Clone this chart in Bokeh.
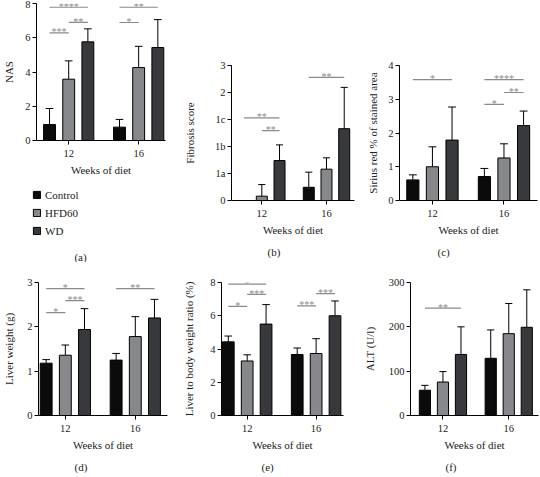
from bokeh.plotting import figure
from bokeh.models import (Range1d, FixedTicker, Legend, LegendItem, Title,
                          ColumnDataSource, Label)
from bokeh.layouts import column, row
from bokeh.embed import file_html
from bokeh.resources import INLINE
from bokeh.core.properties import value

# ---------------- data ----------------
groups = ["12", "16"]
series = ["Control", "HFD60", "WD"]

nas_control = [0.93, 0.78]
nas_control_sd = [0.94, 0.45]
nas_hfd60 = [3.58, 4.26]
nas_hfd60_sd = [1.07, 1.24]
nas_wd = [5.76, 5.43]
nas_wd_sd = [0.76, 1.63]
nas_sig = [(0, 0, 1, 6.28, "***"), (0, 1, 2, 6.9, "**"), (0, 0, 2, 7.78, "****"),
           (1, 0, 1, 6.89, "*"), (1, 0, 2, 7.78, "**")]

fib_ticklabels = ["0", "1a", "1b", "1c", "2", "3"]
fib_control = [0.0, 0.49]
fib_control_sd = [0.0, 0.56]
fib_hfd60 = [0.16, 1.16]
fib_hfd60_sd = [0.43, 0.42]
fib_wd = [1.48, 2.66]
fib_wd_sd = [0.58, 1.53]
fib_sig = [(0, 0, 2, 3.06, "**"), (0, 1, 2, 2.59, "**"), (1, 0, 2, 4.56, "**")]

sirius_control = [0.61, 0.71]
sirius_control_sd = [0.15, 0.24]
sirius_hfd60 = [1.0, 1.26]
sirius_hfd60_sd = [0.59, 0.42]
sirius_wd = [1.79, 2.22]
sirius_wd_sd = [0.98, 0.43]
sirius_sig = [(0, 0, 2, 3.58, "*"), (1, 0, 2, 3.58, "****"), (1, 1, 2, 3.2, "**"),
              (1, 0, 1, 2.85, "*")]

liver_control = [1.18, 1.25]
liver_control_sd = [0.08, 0.15]
liver_hfd60 = [1.36, 1.78]
liver_hfd60_sd = [0.23, 0.45]
liver_wd = [1.94, 2.20]
liver_wd_sd = [0.47, 0.42]
liver_sig = [(0, 0, 2, 2.86, "*"), (0, 1, 2, 2.59, "***"), (0, 0, 1, 2.32, "*"),
             (1, 0, 2, 2.86, "**")]

ratio_control = [4.43, 3.67]
ratio_control_sd = [0.35, 0.39]
ratio_hfd60 = [3.28, 3.73]
ratio_hfd60_sd = [0.37, 0.89]
ratio_wd = [5.5, 6.0]
ratio_wd_sd = [1.17, 0.89]
ratio_sig = [(0, 0, 2, 7.9, "*"), (0, 1, 2, 7.28, "***"), (0, 0, 1, 6.56, "*"),
             (1, 0, 1, 6.6, "***"), (1, 1, 2, 7.33, "***")]

alt_control = [57, 129]
alt_control_sd = [11, 64]
alt_hfd60 = [75.5, 184.6]
alt_hfd60_sd = [23.5, 68]
alt_wd = [137.7, 199]
alt_wd_sd = [62.3, 84.5]
alt_sig = [(0, 0, 2, 242, "**")]

# ---------------- style ----------------
FONT = "Liberation Serif"
COLORS = ["#0b0b0b", "#86888c", "#38393d"]
SIG_COLOR = "#8a8a8a"
TEXT_COLOR = "#222222"
STEP = 1 / 3.65          # bar spacing in group units
BAR_W = 0.62 * STEP


def make_panel(letter, ylabel, means, sds, sig, yticks, yend, xr,
               width, height, mbl, mbr, mbt, mbb, als, tick_over=None,
               title_offset=0):
    p = figure(width=width, height=height, min_border_left=mbl,
               min_border_right=mbr, min_border_top=mbt, min_border_bottom=mbb,
               x_range=Range1d(xr[0] * STEP, xr[1] * STEP), y_range=Range1d(0, yend),
               output_backend="svg", toolbar_location=None, title=None,
               outline_line_color=None)
    p.grid.visible = False
    p.background_fill_color = "white"
    p.border_fill_color = "white"

    for s, (m, sd) in enumerate(zip(means, sds)):
        xs = [g + (s - 1) * STEP for g in range(len(groups))]
        src = ColumnDataSource(dict(x=xs, top=m,
                                    up=[a + b for a, b in zip(m, sd)],
                                    lx=[x - 0.2 * STEP for x in xs],
                                    rx=[x + 0.2 * STEP for x in xs]))
        p.segment(x0="x", y0="top", x1="x", y1="up", source=src,
                  line_color="black", line_width=1)
        p.segment(x0="lx", y0="up", x1="rx", y1="up", source=src,
                  line_color="black", line_width=1)
        p.vbar(x="x", top="top", bottom=0, width=BAR_W, source=src,
               fill_color=COLORS[s], line_color="black", line_width=1)

    sx0 = [g + (a - 1) * STEP for g, a, b, y, t in sig]
    sx1 = [g + (b - 1) * STEP for g, a, b, y, t in sig]
    sy = [y for g, a, b, y, t in sig]
    st = [t for g, a, b, y, t in sig]
    sm = [(a + b) / 2 for a, b in zip(sx0, sx1)]
    ssrc = ColumnDataSource(dict(x0=sx0, x1=sx1, y=sy, t=st, xm=sm))
    p.segment(x0="x0", y0="y", x1="x1", y1="y", source=ssrc,
              line_color=SIG_COLOR, line_width=1.2)
    p.text(x="xm", y="y", text="t", source=ssrc, text_align="center",
           text_baseline="middle", y_offset=-1, text_color=SIG_COLOR,
           text_font=value(FONT), text_font_size="10px")

    # axes
    ax = p.xaxis[0]
    ax.ticker = FixedTicker(ticks=[0, 1])
    ax.major_label_overrides = {0: groups[0], 1: groups[1]}
    ax.axis_label = "Weeks of diet"
    ay = p.yaxis[0]
    ay.ticker = FixedTicker(ticks=yticks)
    if tick_over:
        ay.major_label_overrides = tick_over
    ay.axis_label = ylabel
    for a in (ax, ay):
        a.minor_tick_line_color = None
        a.major_tick_in = 0
        a.major_tick_out = 4
        a.axis_line_color = "black"
        a.major_tick_line_color = "black"
        a.major_label_text_font = FONT
        a.major_label_text_font_size = "10.5px"
        a.major_label_text_color = TEXT_COLOR
        a.axis_label_text_font = FONT
        a.axis_label_text_font_size = "11px"
        a.axis_label_text_font_style = "normal"
        a.axis_label_text_color = TEXT_COLOR
    ay.major_label_standoff = 2
    ax.major_label_standoff = 5
    ay.axis_label_standoff = als
    ax.axis_label_standoff = 4

    if letter:
        t = Title(text="(" + letter + ")", align="left", text_font=FONT,
                  text_font_size="11px", text_font_style="normal",
                  text_color=TEXT_COLOR, offset=title_offset)
        p.add_layout(t, "below")
    return p


H1, H2 = 262, 215
HA, HL = 185, 77
pa = make_panel(None, "NAS", [nas_control, nas_hfd60, nas_wd],
                [nas_control_sd, nas_hfd60_sd, nas_wd_sd], nas_sig,
                [0, 2, 4, 6, 8], 8, (-1.68, 5.05),
                180, HA, 33, 15, 3, 45, 7)

# legend + "(a)" for panel (a), in a small companion figure without axes
pleg = figure(width=180, height=HL, x_range=Range1d(0, 180), y_range=Range1d(0, HL),
              output_backend="svg", toolbar_location=None, title=None,
              outline_line_color=None, x_axis_type=None, y_axis_type=None,
              min_border_left=0, min_border_right=0, min_border_top=0,
              min_border_bottom=0)
pleg.grid.visible = False
leg_renderers = []
for i in range(3):
    r = pleg.vbar(x=[0], top=[0], width=1, fill_color=COLORS[i],
                  line_color="black", line_width=1)
    r.visible = False          # only used as legend swatch
    leg_renderers.append(r)
lg = Legend(items=[LegendItem(label=series[i], renderers=[leg_renderers[i]])
                   for i in range(3)],
            orientation="vertical", location=(32, 25),
            glyph_width=9, glyph_height=9, spacing=5, padding=0,
            margin=0, border_line_color=None, inactive_fill_alpha=0,
            background_fill_alpha=0, label_standoff=4,
            label_text_font="Liberation Serif, serif", label_text_font_size="11px",
            label_text_font_style="normal",
            label_height=13, label_text_color=TEXT_COLOR)
pleg.add_layout(lg, "center")
pleg.add_layout(Label(x=80, y=HL - 71, text="(a)", text_align="center",
                      text_baseline="middle", text_font=FONT,
                      text_font_size="11px", text_color=TEXT_COLOR))

pb = make_panel("b", "Fibrosis score", [fib_control, fib_hfd60, fib_wd],
                [fib_control_sd, fib_hfd60_sd, fib_wd_sd], fib_sig,
                [0, 1, 2, 3, 4, 5], 5, (-1.71, 5.23),
                180, H1, 38, 6, 65, 60, 16,
                tick_over={i: lab for i, lab in enumerate(fib_ticklabels)},
                title_offset=36)
pc = make_panel("c", "Sirius red % of stained area",
                [sirius_control, sirius_hfd60, sirius_wd],
                [sirius_control_sd, sirius_hfd60_sd, sirius_wd_sd], sirius_sig,
                [0, 1, 2, 3, 4], 4, (-1.68, 5.36),
                180, H1, 39, 3, 65, 60, 6, title_offset=38)
pd = make_panel("d", "Liver weight (g)", [liver_control, liver_hfd60, liver_wd],
                [liver_control_sd, liver_hfd60_sd, liver_wd_sd], liver_sig,
                [0, 1, 2, 3], 3, (-1.40, 5.33),
                180, H2, 35, 13, 20, 59, 9, title_offset=36)
pe = make_panel("e", "Liver to body weight ratio (%)",
                [ratio_control, ratio_hfd60, ratio_wd],
                [ratio_control_sd, ratio_hfd60_sd, ratio_wd_sd], ratio_sig,
                [0, 2, 4, 6, 8], 8, (-1.36, 5.1),
                180, H2, 36, 17, 20, 59, 12, title_offset=40)
pf = make_panel("f", "ALT (U/l)", [alt_control, alt_hfd60, alt_wd],
                [alt_control_sd, alt_hfd60_sd, alt_wd_sd], alt_sig,
                [0, 100, 200, 300], 300, (-1.80, 5.3),
                180, H2, 39, 2, 20, 59, 10, title_offset=35)

col_a = column(column(pa), column(pleg), spacing=0)
layout = column(row(col_a, column(pb), column(pc), spacing=0),
                row(column(pd), column(pe), column(pf), spacing=0), spacing=0)
open("out.html", "w").write(file_html(layout, INLINE))
